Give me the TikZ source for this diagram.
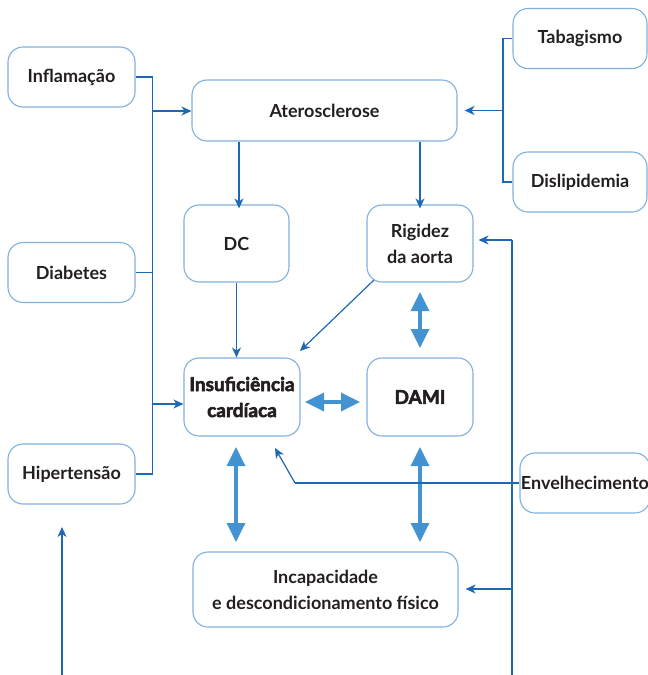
\documentclass[tikz,border=0pt]{standalone}
\usepackage{fontspec}
\setmainfont{Lato}
\newfontfamily\heavyfont{Lato}[UprightFeatures={FakeBold=3}, BoldFeatures={FakeBold=3}]
\usetikzlibrary{arrows.meta}
\definecolor{boxline}{HTML}{7FB0DE}
\definecolor{linkblue}{HTML}{1F68B4}
\definecolor{dualblue}{HTML}{4393D3}
\definecolor{textgray}{HTML}{231F20}
\tikzset{
  factor/.style={draw=boxline, line width=1.1pt, rounded corners=15pt,
    align=center, text=textgray, font=\fontsize{18}{26}\selectfont\bfseries,
    inner sep=0pt},
  keybox/.style={factor, font=\fontsize{19}{26}\selectfont\heavyfont\bfseries},
  link/.style={draw=linkblue, line width=1.2pt},
  linkarrow/.style={link, -{Stealth[length=10pt,width=9pt,inset=3pt]}},
  dual/.style={draw=dualblue, line width=3.5pt,
    {Triangle[length=19pt,width=18pt]}-{Triangle[length=19pt,width=18pt]}},
}
\begin{document}
\begin{tikzpicture}[x=1pt,y=-1pt]
\useasboundingbox (0,0) rectangle (648,675);

% risk factors on the left
\node[factor, minimum width=127pt, minimum height=60pt] (infl) at (71.5,77) {Inflamação};
\node[factor, minimum width=127pt, minimum height=60pt] (diab) at (71.5,272.5) {Diabetes};
\node[factor, minimum width=127pt, minimum height=60pt] (hip) at (71.5,474) {Hipertensão};

% risk factors on the right
\node[factor, minimum width=134pt, minimum height=60pt] (tab) at (580,38.5) {Tabagismo};
\node[factor, minimum width=134pt, minimum height=60pt] (disl) at (580,182) {Dislipidemia};

% central chain
\node[factor, minimum width=265pt, minimum height=61pt] (ater) at (324.5,110.5) {Aterosclerose};
\node[factor, minimum width=105pt, minimum height=77pt] (dc) at (236.5,243.5) {DC};
\node[factor, minimum width=106pt, minimum height=77pt] (rig) at (420,243.5) {Rigidez\\da aorta};
\node[keybox, minimum width=116pt, minimum height=78pt] (ic) at (242,397) {Insuficiência\\cardíaca};
\node[keybox, minimum width=106pt, minimum height=78pt] (dami) at (420,397) {DAMI};
\node[factor, minimum width=265pt, minimum height=75pt] (inc) at (325.5,589.5) {Incapacidade\\e descondicionamento físico};
\node[factor, minimum width=130pt, minimum height=60pt] (env) at (585,483) {Envelhecimento};

% junction points and free ends
\coordinate (lbus) at (152.5,0);
\coordinate (rbus) at (503,0);
\coordinate (agebus) at (512,0);
\coordinate (ageBottom) at (512,675);
\coordinate (hipBottom) at (62,675);
\coordinate (hipTip) at (62,527);
\coordinate (ageBend) at (295,483);
\coordinate (ageTip) at (275,448);

% left collector
\draw[link] (infl.east |- 0,77) -- (lbus |- 0,77) -- (lbus |- 0,474) -- (hip.east |- 0,474);
\draw[link] (diab.east) -- (lbus |- diab.east);
\draw[linkarrow] (lbus |- 0,111) -- (ater.west |- 0,111);
\draw[linkarrow] (lbus |- 0,404) -- (ic.west |- 0,404);

% right collector
\draw[link] (tab.west) -- (rbus |- tab.west) -- (rbus |- disl.west) -- (disl.west);
\draw[linkarrow] (rbus |- ater.east) -- ([xshift=7pt]ater.east);

% atherosclerosis consequences
\draw[linkarrow] (ater.south -| 239,0) -- ([yshift=-4pt]dc.north -| 239,0);
\draw[linkarrow] (ater.south -| 420,0) -- ([yshift=-4pt]rig.north -| 420,0);
\draw[linkarrow] (dc.south) -- (ic.north -| dc.south);
\draw[linkarrow] (374,280) -- (300,351);

% two-way relations
\draw[dual] (420,292) -- (420,348);
\draw[dual] (305,402) -- (360,402);
\draw[dual] (236,447) -- (236,542);
\draw[dual] (420,447) -- (420,542);

% ageing
\draw[link] (env.west) -- (ageBend);
\draw[linkarrow] (ageBend) -- (ageTip);
\draw[link] (ageBottom) -- (agebus |- 0,240);
\draw[linkarrow] (agebus |- 0,240) -- ([xshift=5pt]rig.east |- 0,240);
\draw[linkarrow] (agebus |- 0,589) -- ([xshift=7pt]inc.east |- 0,589);

% hypertension from below
\draw[linkarrow] (hipBottom) -- (hipTip);
\end{tikzpicture}
\end{document}
